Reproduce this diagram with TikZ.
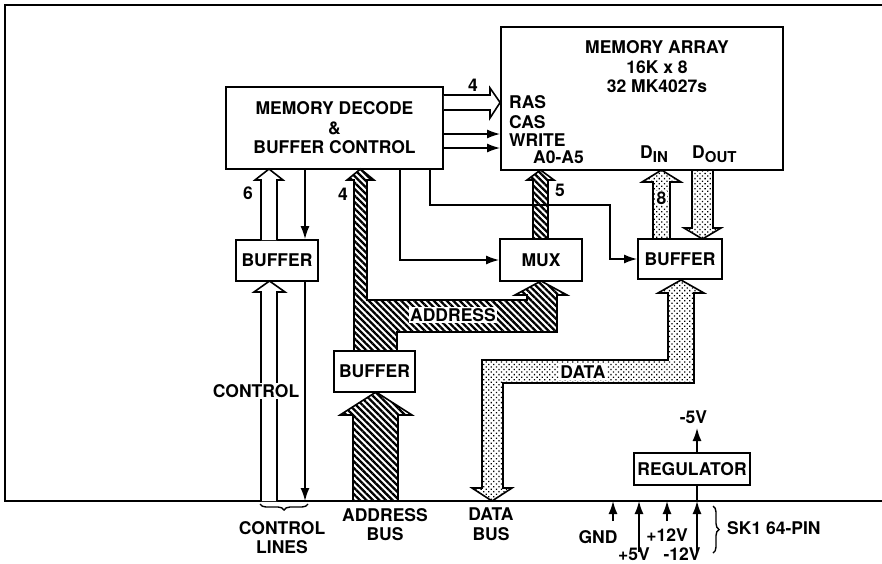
\documentclass[tikz,border=0pt]{standalone}
\usepackage{fontspec}
\setmainfont{TeX Gyre Heros}
\usetikzlibrary{arrows.meta,patterns.meta,decorations.pathreplacing}
\begin{document}
\begin{tikzpicture}[x=1pt,y=-1pt,
  every node/.style={font=\fontsize{17.5}{19.5}\selectfont\bfseries, inner sep=0pt},
  box/.style={draw, line width=1.8pt, fill=white, inner sep=0pt},
  ln/.style={line width=1.6pt},
  arr/.style={ln, -{Latex[length=13pt,width=9pt]}},
  hollow/.style={line width=1.6pt, fill=white, line join=miter},
  hatch/.style={line width=1.6pt, line join=miter, pattern={Lines[angle=-45,distance=4.6pt,line width=2.3pt]}},
  dotty/.style={line width=1.6pt, line join=miter, pattern={Dots[angle=45,distance=3.6pt,radius=0.9pt]}},
  lbl/.style={fill=white, inner sep=1.5pt},
  brc/.style={decorate, decoration={brace, amplitude=6pt}, line width=1.4pt}]
\useasboundingbox (0,0) rectangle (882,563);

% frame
\draw[line width=2pt] (882,5) -- (5,5) -- (5,501) -- (882,501);
\coordinate (base) at (0,501);

% boxes
\node[box, minimum width=217pt, minimum height=82pt, align=center] (dec) at (334.5,128) {MEMORY DECODE\\\&\\BUFFER CONTROL};
\node[box, minimum width=282pt, minimum height=143pt] (arr) at (642,98.5) {};
\node[box, minimum width=82pt, minimum height=41pt] (buf1) at (277,260.5) {BUFFER};
\node[box, minimum width=82pt, minimum height=42pt] (mux) at (541,260) {MUX};
\node[box, minimum width=84pt, minimum height=40pt] (buf2) at (680,259) {BUFFER};
\node[box, minimum width=81pt, minimum height=41pt] (buf3) at (374.5,371.5) {BUFFER};
\node[box, minimum width=116pt, minimum height=32pt] (reg) at (692,469) {REGULATOR};

% memory array texts
\node (t1) at (657,47) {MEMORY ARRAY};
\node (t2) at (657,67) {16K x 8};
\node (t3) at (657,86) {32 MK4027s};
\node[anchor=west] (ras) at (509,102) {RAS};
\node[anchor=west] (cas) at (509,122) {CAS};
\node[anchor=west] (wr) at (509,140) {WRITE};
\node[anchor=west] (aa) at (533,157) {A0-A5};
\node[anchor=base west] (din) at (640,158) {D\raisebox{-4pt}{\fontsize{15}{15}\selectfont IN}};
\node[anchor=base west] (dout) at (692,158) {D\raisebox{-4pt}{\fontsize{15}{15}\selectfont OUT}};

% hollow bus arrow decode -> array (4)
\draw[hollow] (dec.east |- 0,95) -- (490,95) -- (490,88) -- (arr.west |- 0,102.5) -- (490,118) -- (490,110) -- (dec.east |- 0,110);
\node (n4a) at (473,85) {4};
% single control lines decode -> array
\coordinate (yw) at (0,134);
\coordinate (ya) at (0,148);
\draw[arr] (dec.east |- yw) -- (arr.west |- yw);
\draw[arr] (dec.east |- ya) -- (arr.west |- ya);

% hollow arrow 6 : buffer -> decode
\draw[hollow] (261,240) -- (261,180) -- (255,180) -- (269,169) -- (283,180) -- (277,180) -- (277,240);
\node (n6) at (248,193) {6};
% control hollow arrow from bus to left buffer
\draw[hollow] (261,501) -- (261,292) -- (254,292) -- (269.5,281) -- (285,292) -- (277,292) -- (277,501);
% control line decode -> buffer -> bus
\coordinate (xc) at (305,0);
\draw[arr] (dec.south -| xc) -- (buf1.north -| xc);
\draw[arr] (buf1.south -| xc) -- (xc |- base);
\node[lbl] (ctl) at (256,391) {CONTROL};

% decode -> mux and decode -> buffer
\coordinate (xm) at (400,0);
\coordinate (xb) at (430,0);
\coordinate (xr) at (610,205);
\draw[arr] (dec.south -| xm) |- (mux.west);
\draw[arr] (dec.south -| xb) |- (xr) |- (buf2.west);

% address bus (hatched)
\draw[hatch] (353,501) -- (353,415) -- (340,415) -- (376,392) -- (412,415) -- (398,415) -- (398,501);
\draw[hatch] (354,351) -- (354,180) -- (347,180) -- (360.5,169) -- (374,180) -- (367,180) -- (367,300) -- (527,300) -- (527,295) -- (515,295) -- (541,281) -- (567,295) -- (557,295) -- (557,332) -- (397,332) -- (397,351) -- cycle;
\node (n4b) at (343,194) {4};
\node[lbl] (addr) at (453,315) {ADDRESS};
\draw[hatch] (533,239) -- (533,180) -- (527,180) -- (540.5,170) -- (554,180) -- (548,180) -- (548,239) -- cycle;
\node (n5) at (560,190) {5};

% data bus (dotted)
\draw[dotty] (492,501) -- (472,488) -- (482,488) -- (482,360) -- (668,360) -- (668,293) -- (658,293) -- (681,280) -- (704,293) -- (694,293) -- (694,383) -- (503,383) -- (503,488) -- (512,488) -- cycle;
\node[lbl] (data) at (583,372) {DATA};
\draw[dotty] (653,239) -- (653,182) -- (642,182) -- (661.5,170) -- (681,182) -- (670,182) -- (670,239) -- cycle;
\node[fill=white, inner sep=0.8pt] (n8) at (661.5,198) {8};
\draw[dotty] (692,170) -- (692,228) -- (684,228) -- (702.5,239) -- (721,228) -- (713,228) -- (713,170) -- cycle;

% regulator and power
\coordinate (xv) at (697,0);
\coordinate (m5) at (697,428);
\draw[arr] (reg.north -| xv) -- (m5);
\node (v5m) at (693.5,417) {-5V};
\draw[ln] (reg.south -| xv) -- (xv |- base);
\coordinate (pg) at (613,521);
\coordinate (p5) at (639,552);
\coordinate (p12) at (667,521);
\coordinate (m12) at (697,552);
\draw[arr] (pg) -- (pg |- base);
\draw[arr] (p5) -- (p5 |- base);
\draw[arr] (p12) -- (p12 |- base);
\draw[arr] (m12) -- (m12 |- base);
\node (gnd) at (598,537) {GND};
\node (l5) at (634,554) {+5V};
\node (l12) at (667,535) {+12V};
\node (lm12) at (682,554) {-12V};
\draw[brc] (713,506) -- (713,553);
\node[anchor=west] (sk) at (727,528) {SK1 64-PIN};

% bottom labels
\draw[brc] (308,504) -- (260,504);
\node[align=center] (cl) at (282,537.5) {CONTROL\\LINES};
\node[align=center] (ab) at (385,524.5) {ADDRESS\\BUS};
\node[align=center] (db) at (491,524) {DATA\\BUS};
\end{tikzpicture}
\end{document}
